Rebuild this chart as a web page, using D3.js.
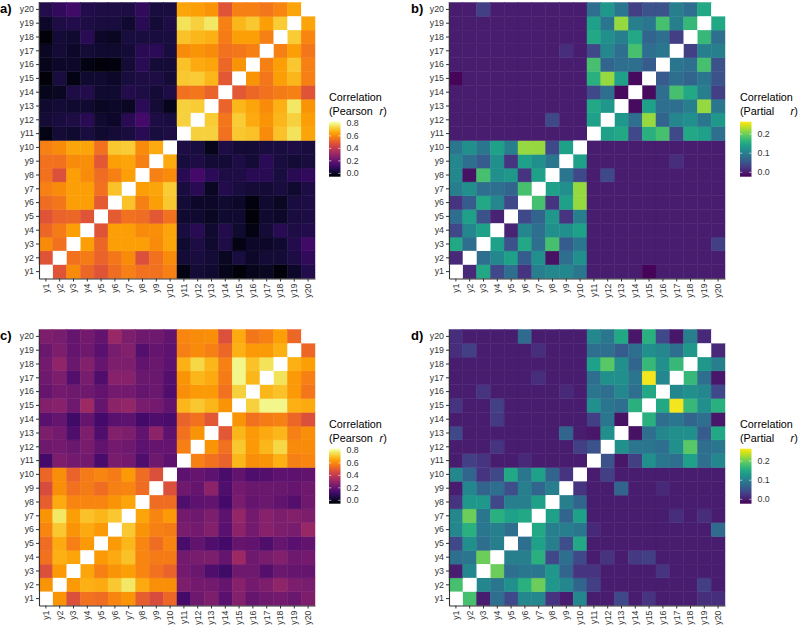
<!DOCTYPE html>
<html><head><meta charset="utf-8">
<script src="https://cdn.jsdelivr.net/npm/d3@7"></script>
<style>
body{margin:0;background:#fff}
svg{display:block}
text{font-family:"Liberation Sans",Arial,Helvetica,sans-serif}
</style>
</head><body><svg id="chart" width="800" height="627"></svg>
<script>
// variable names
const vars = d3.range(1, 21).map(i => "y" + i);

// Lower-triangle rows: row i holds the correlations with y1 .. y(i-1)
const pearsonA = [
 [],
 [0.48],
 [0.60,0.55],
 [0.53,0.57,0.64],
 [0.48,0.52,0.53,0.48],
 [0.54,0.56,0.64,0.64,0.50],
 [0.58,0.60,0.64,0.64,0.55,0.70],
 [0.55,0.47,0.64,0.60,0.54,0.58,0.64],
 [0.55,0.55,0.60,0.61,0.49,0.64,0.65,0.58],
 [0.58,0.60,0.65,0.65,0.55,0.71,0.72,0.60,0.66],
 [-0.02,0.03,0.02,0.04,0.02,0.03,0.04,0.07,0.04,0.05],
 [0.03,0.04,0.05,0.07,0.02,0.01,0.07,0.13,0.05,0.04, 0.73],
 [0.02,0.03,0.02,0.02,0.00,0.01,0.00,0.08,0.03,-0.01, 0.73,0.72],
 [-0.01,0.00,0.05,0.06,0.02,0.02,0.06,0.05,0.03,0.05, 0.55,0.56,0.52],
 [-0.04,0.04,-0.02,0.02,0.02,0.01,0.04,0.05,0.05,0.03, 0.71,0.72,0.68,0.49],
 [-0.01,0.01,0.01,-0.02,-0.04,-0.03,0.03,0.07,0.03,0.03, 0.70,0.66,0.65,0.53,0.62],
 [0.00,0.03,0.01,0.03,0.02,0.02,0.03,0.07,0.08,0.04, 0.60,0.62,0.60,0.55,0.56,0.58],
 [-0.04,0.03,0.02,0.07,0.01,0.00,0.04,0.04,0.04,0.04, 0.70,0.68,0.67,0.57,0.64,0.64,0.58],
 [0.01,0.05,0.06,0.05,0.04,0.04,0.02,0.07,0.03,0.05, 0.76,0.73,0.77,0.58,0.68,0.71,0.64,0.72],
 [0.06,0.09,0.12,0.06,0.05,0.05,0.05,0.09,0.04,0.04, 0.65,0.64,0.62,0.48,0.58,0.58,0.56,0.59,0.65]
];

const partialB = [
 [],
 [0.01],
 [0.15,0.08],
 [0.04,0.11,0.14],
 [0.08,0.14,0.05,0.005],
 [0.02,0.06,0.15,0.11,0.04],
 [0.10,0.12,0.08,0.08,0.07,0.18],
 [0.11,-0.01,0.18,0.12,0.13,0.02,0.14],
 [0.11,0.08,0.06,0.12,0.02,0.14,0.12,0.09],
 [0.09,0.12,0.09,0.14,0.10,0.22,0.22,0.04,0.14],
 [0,0,0,0,0,0,0,0,0,0],
 [0,0,0,0,0,0,0,0.04,0,0, 0.14],
 [0,0,0,0,0,0,0,0,0,0, 0.15,0.13],
 [0,0,0,0,0,0,0,0,0,0, 0.04,0.08,-0.015],
 [-0.02,0,0,0,0,0,0,0,0,0, 0.16,0.22,0.14,-0.015],
 [0,0,0,0,0,0,0,0,0,0, 0.18,0.07,0.08,0.08,0.06],
 [0,0,0,0,0,0,0,0,0.015,0, 0.04,0.11,0.08,0.18,0.08,0.09],
 [0,0,0,0,0,0,0,0,0,0, 0.15,0.12,0.10,0.15,0.07,0.08,0.03],
 [0,0,0,0,0,0,0,0,0,0, 0.14,0.09,0.22,0.10,0.09,0.18,0.10,0.17],
 [0,0,0.03,0,0,0,0,0,0,0, 0.08,0.13,0.09,0.03,0.05,0.05,0.10,0.08,0.15]
];

const pearsonC = [
 [],
 [0.62],
 [0.47,0.63],
 [0.55,0.67,0.65],
 [0.54,0.66,0.58,0.63],
 [0.59,0.71,0.62,0.66,0.63],
 [0.62,0.77,0.64,0.70,0.68,0.71],
 [0.51,0.66,0.59,0.59,0.59,0.62,0.65],
 [0.46,0.61,0.55,0.57,0.54,0.58,0.59,0.54],
 [0.53,0.61,0.52,0.57,0.59,0.57,0.63,0.54,0.47],
 [0.13,0.25,0.23,0.23,0.14,0.24,0.23,0.15,0.22,0.18],
 [0.22,0.23,0.21,0.24,0.19,0.23,0.22,0.18,0.20,0.20, 0.58],
 [0.25,0.23,0.15,0.25,0.15,0.26,0.25,0.19,0.28,0.18, 0.55,0.62],
 [0.17,0.20,0.12,0.20,0.13,0.17,0.18,0.13,0.15,0.14, 0.52,0.55,0.49],
 [0.26,0.27,0.22,0.32,0.20,0.28,0.30,0.24,0.23,0.19, 0.68,0.71,0.68,0.62],
 [0.20,0.23,0.22,0.22,0.19,0.23,0.23,0.20,0.21,0.15, 0.61,0.63,0.63,0.55,0.73],
 [0.22,0.25,0.16,0.24,0.15,0.27,0.27,0.21,0.21,0.16, 0.62,0.68,0.66,0.57,0.80,0.68],
 [0.23,0.29,0.21,0.26,0.20,0.25,0.25,0.19,0.21,0.18, 0.67,0.74,0.68,0.58,0.80,0.70,0.76],
 [0.21,0.25,0.20,0.22,0.17,0.24,0.26,0.16,0.20,0.18, 0.58,0.60,0.58,0.53,0.67,0.63,0.63,0.67],
 [0.25,0.24,0.20,0.23,0.19,0.31,0.25,0.22,0.22,0.19, 0.59,0.60,0.61,0.47,0.66,0.56,0.58,0.64,0.53]
];

const partialD = [
 [],
 [0.18],
 [0.00,0.11],
 [0.08,0.09,0.20],
 [0.04,0.12,0.08,0.10],
 [0.11,0.16,0.09,0.10,0.08],
 [0.11,0.20,0.09,0.16,0.14,0.15],
 [0.02,0.13,0.13,0.04,0.10,0.10,0.14],
 [0.00,0.11,0.07,0.08,0.045,0.10,0.07,0.10],
 [0.11,0.07,0.02,0.04,0.15,0.09,0.14,0.07,0.02],
 [0,0.03,0.02,0,0,0.01,0,0,0,0],
 [0,0,0,0.02,0,0,0,0,0,0.03, 0.05],
 [0.04,0,0,0,0,0,0,0,0.07,0, -0.005,0.12],
 [0,0,0,0.025,0,0,0,0,0,0, 0.03,0.09,-0.01],
 [0.02,0,0,0.03,0,0,0,0,0,0, 0.12,0.09,0.08,0.16],
 [0,0,0.02,0,0,0,0,0,0.01,0, 0.09,0.08,0.11,0.08,0.15],
 [0,0,0,0,0,0,0.015,0,0,0, 0.08,0.12,0.12,0.09,0.26,0.11],
 [0,0,0,0,0,0,0,0,0,0, 0.14,0.19,0.12,0.07,0.17,0.12,0.17],
 [0.015,0.03,0,0,0,0,0.015,0,0,0, 0.08,0.08,0.06,0.08,0.12,0.11,0.08,0.13],
 [0.015,0,0,0,0,0.075,0,0,0,0, 0.11,0.09,0.15,-0.005,0.16,0.04,-0.005,0.10,0.01]
];

const pearsonTicks = [0.0, 0.2, 0.4, 0.6, 0.8];
const partialTicks = [0.0, 0.1, 0.2];
const pearsonLimits = [-0.054, 0.827];
const partialLimits = [-0.023, 0.265];

function fullMatrix(lower) {
  const cells = [];
  for (let i = 0; i < 20; i++) {
    for (let j = 0; j < 20; j++) {
      const v = i === j ? null : (j < i ? lower[i][j] : lower[j][i]);
      cells.push({row: vars[i], col: vars[j], value: v});
    }
  }
  return cells;
}

const svg = d3.select("#chart");
const defs = svg.append("defs");
const SIZE = 276;

const panels = [
  {label: "a)", data: pearsonA, x0: 39, y0: 2.5, interp: d3.interpolateInferno, limits: pearsonLimits, ticks: pearsonTicks, kind: "Pearson", lx: 329},
  {label: "b)", data: partialB, x0: 449, y0: 2.5, interp: d3.interpolateViridis, limits: partialLimits, ticks: partialTicks, kind: "Partial", lx: 740},
  {label: "c)", data: pearsonC, x0: 39, y0: 329.5, interp: d3.interpolateInferno, limits: pearsonLimits, ticks: pearsonTicks, kind: "Pearson", lx: 329},
  {label: "d)", data: partialD, x0: 449, y0: 329.5, interp: d3.interpolateViridis, limits: partialLimits, ticks: partialTicks, kind: "Partial", lx: 740}
];
const fmt = d3.format(".1f");

panels.forEach((p, pi) => {
  const x = d3.scaleBand().domain(vars).range([p.x0, p.x0 + SIZE]);
  const y = d3.scaleBand().domain(vars).range([p.y0 + SIZE, p.y0]);
  const color = d3.scaleSequential(p.interp).domain(p.limits).clamp(true);
  const g = svg.append("g");

  const cells = fullMatrix(p.data);
  g.selectAll("rect.cell").data(cells.filter(d => d.value !== null)).join("rect")
    .attr("class", "cell")
    .attr("x", d => x(d.col))
    .attr("y", d => y(d.row))
    .attr("width", x.bandwidth())
    .attr("height", y.bandwidth())
    .attr("fill", d => color(d.value))
    .attr("stroke", d => color(d.value))
    .attr("stroke-width", 0.45);
  g.selectAll("rect.diag").data(cells.filter(d => d.value === null)).join("rect")
    .attr("class", "diag")
    .attr("x", d => x(d.col))
    .attr("y", d => y(d.row))
    .attr("width", x.bandwidth())
    .attr("height", y.bandwidth())
    .attr("fill", "#ffffff");

  // axes
  const ay = g.append("g").attr("transform", `translate(${p.x0},0)`)
    .call(d3.axisLeft(y).tickSize(3).tickSizeOuter(0).tickPadding(2));
  const ax = g.append("g").attr("transform", `translate(0,${p.y0 + SIZE})`)
    .call(d3.axisBottom(x).tickSize(3).tickSizeOuter(0));
  ax.selectAll("text")
    .attr("transform", "rotate(-90)")
    .attr("x", -5).attr("y", 0).attr("dy", "0.33em")
    .style("text-anchor", "end");
  [ax, ay].forEach(a => {
    a.select(".domain").attr("stroke", "#333").attr("stroke-width", 1.1);
    a.selectAll(".tick line").attr("stroke", "#333");
    a.selectAll("text").attr("fill", "#333").style("font-size", "8.8px").attr("font-family", null);
  });

  // panel label
  svg.append("text").attr("x", pi % 2 === 0 ? 0 : 411).attr("y", p.y0 + 10)
    .style("font-size", "13px").style("font-weight", "bold").attr("fill", "#000")
    .text(p.label);

  // legend
  const lg = svg.append("g");
  const barTop = p.y0 + 119.2, barH = 55, barW = 11.5;
  const gid = "grad" + pi;
  const grad = defs.append("linearGradient").attr("id", gid)
    .attr("x1", 0).attr("y1", 1).attr("x2", 0).attr("y2", 0);
  d3.range(0, 1.0001, 0.05).forEach(t => {
    grad.append("stop").attr("offset", t)
      .attr("stop-color", color(p.limits[0] + t * (p.limits[1] - p.limits[0])));
  });
  lg.append("rect").attr("x", p.lx).attr("y", barTop).attr("width", barW).attr("height", barH)
    .attr("fill", `url(#${gid})`);
  const ls = d3.scaleLinear().domain(p.limits).range([barTop + barH, barTop]);
  p.ticks.forEach(t => {
    const ty = ls(t);
    lg.append("line").attr("x1", p.lx).attr("x2", p.lx + 2.3).attr("y1", ty).attr("y2", ty)
      .attr("stroke", "#fff").attr("stroke-width", 0.6);
    lg.append("line").attr("x1", p.lx + barW - 2.3).attr("x2", p.lx + barW).attr("y1", ty).attr("y2", ty)
      .attr("stroke", "#fff").attr("stroke-width", 0.6);
    lg.append("text").attr("x", p.lx + barW + 6).attr("y", ty).attr("dy", "0.35em")
      .style("font-size", "8.8px").attr("fill", "#333").text(fmt(t));
  });
  const t1 = lg.append("text").attr("x", p.lx).attr("y", p.y0 + 98.5)
    .style("font-size", "10.8px").attr("fill", "#000").text("Correlation");
  const w = t1.node().getComputedTextLength();
  lg.append("text").attr("x", p.lx).attr("y", p.y0 + 112.5)
    .style("font-size", "10.8px").attr("fill", "#000").text("(" + p.kind);
  const t3 = lg.append("text").attr("x", p.lx + w + 5).attr("y", p.y0 + 112.5)
    .style("font-size", "10.8px").attr("fill", "#000").style("text-anchor", "end");
  t3.append("tspan").style("font-style", "italic").text("r");
  t3.append("tspan").text(")");
});
</script>
</body></html>
